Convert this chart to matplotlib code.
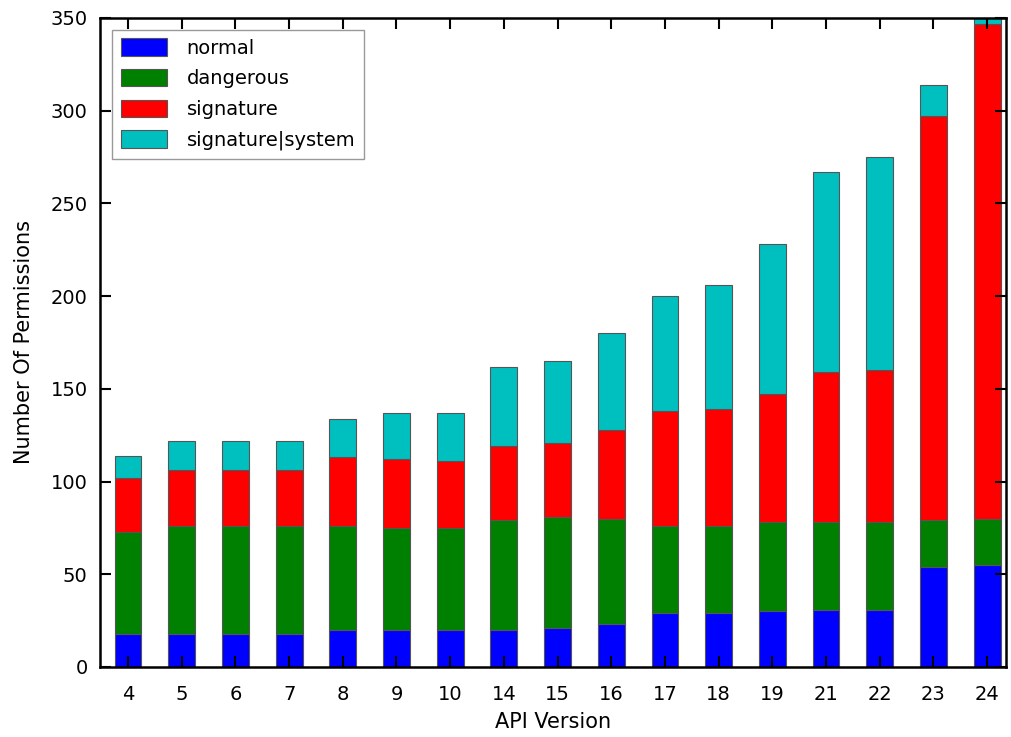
import matplotlib.pyplot as plt
import numpy as np

api_versions = ["4", "5", "6", "7", "8", "9", "10", "14", "15", "16", "17", "18", "19", "21", "22", "23", "24"]

# cumulative tops read per level, converted to per-level counts below
normal = [18, 18, 18, 18, 20, 20, 20, 20, 21, 23, 29, 29, 30, 31, 31, 54, 55]
dangerous_top = [73, 76, 76, 76, 76, 75, 75, 79, 81, 80, 76, 76, 78, 78, 78, 79, 80]
signature_top = [102, 106, 106, 106, 113, 112, 111, 119, 121, 128, 138, 139, 147, 159, 160, 297, 347]
total = [114, 122, 122, 122, 134, 137, 137, 162, 165, 180, 200, 206, 228, 267, 275, 314, 350]

normal = np.array(normal)
dangerous = np.array(dangerous_top) - normal
signature = np.array(signature_top) - np.array(dangerous_top)
sig_system = np.array(total) - np.array(signature_top)

fig = plt.figure(figsize=(10.11, 7.37), dpi=100)
ax = fig.add_axes([0.099, 0.095, 0.896, 0.8806])

x = np.arange(len(api_versions))
width = 0.5
edge = dict(edgecolor="#555555", linewidth=0.8)

ax.bar(x, normal, width, color=(0, 0, 1), label="normal", **edge)
ax.bar(x, dangerous, width, bottom=normal, color=(0, 0.5, 0), label="dangerous", **edge)
ax.bar(x, signature, width, bottom=normal + dangerous, color=(1, 0, 0), label="signature", **edge)
ax.bar(x, sig_system, width, bottom=normal + dangerous + signature,
       color=(0, 0.75, 0.75), label="signature|system", **edge)

ax.set_xlim(-0.52, 16.35)
ax.set_ylim(0, 350)
ax.set_yticks(np.arange(0, 351, 50))
ax.set_xticks(x)
ax.set_xticklabels(api_versions)

ax.tick_params(direction="in", top=True, right=True, length=8, width=1.5,
               labelsize=14)
ax.tick_params(axis="x", pad=13)
ax.tick_params(axis="y", pad=9)
for s in ax.spines.values():
    s.set_linewidth(1.8)

ax.set_xlabel("API Version", fontsize=15, labelpad=6)
ax.set_ylabel("Number Of Permissions", fontsize=15, labelpad=12)

leg = ax.legend(loc="upper left", fontsize=14, fancybox=False, framealpha=1,
                borderaxespad=0.6, handlelength=2.4, handleheight=1.0,
                handletextpad=1.0, labelspacing=0.58, borderpad=0.45)
leg.get_frame().set_edgecolor("#999999")

plt.savefig("out.png", dpi=100)
